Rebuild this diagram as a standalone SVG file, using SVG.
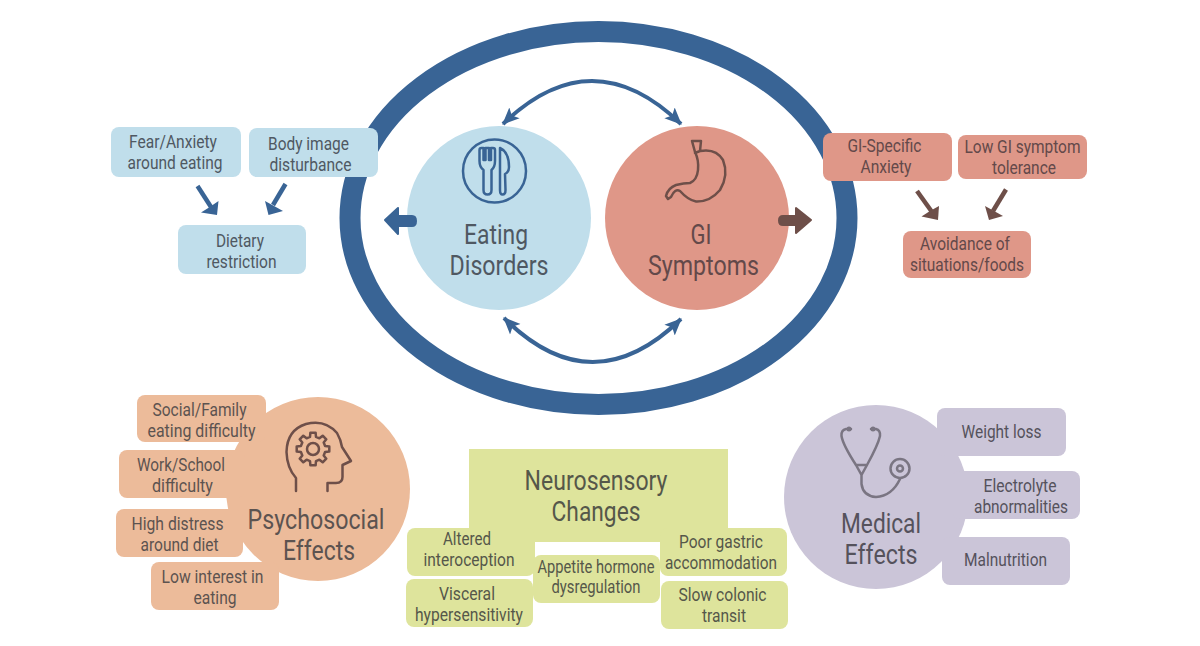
<svg xmlns="http://www.w3.org/2000/svg" width="1200" height="646" viewBox="0 0 1200 646">
<style>
text{font-family:Roboto,"Liberation Sans",sans-serif;fill:#555355;text-anchor:middle}
.t{font-size:18px}.h{font-size:28px}
.ic{fill:none;stroke-width:2.500;stroke-linejoin:round;stroke-linecap:round}
.blue{fill:#c0deeb}.red{fill:#df9788}.org{fill:#ecbb9a}.pur{fill:#cbc5d8}.grn{fill:#dee49c}
.arc{fill:none;stroke:#396495;stroke-width:4}
.bl text{fill:#4f5862}.rd text{fill:#63494a}.og text{fill:#5c5350}.gr text{fill:#55574a}.pr text{fill:#55525c}
.sb{stroke:#396495;stroke-width:4.500;fill:none}.fb{fill:#396495}
.sr{stroke:#6e4f49;stroke-width:4.500;fill:none}.fr{fill:#6e4f49}
</style>
<defs>
<marker id="ah" markerUnits="userSpaceOnUse" markerWidth="17" markerHeight="17" refX="15" refY="7.500" orient="auto-start-reverse" viewBox="0 0 16 15"><path d="M0 0.500L16 7.500L0 14.500L3.500 7.500Z" fill="#396495"/></marker>
</defs>
<rect width="1200" height="646" fill="#fff"/>
<g id="ring"><ellipse cx="598.500" cy="218" rx="248.500" ry="186.500" fill="none" stroke="#396495" stroke-width="21"/></g>
<g id="eating-disorders" class="bl"><circle class="blue" cx="499" cy="218" r="92"/>
<circle cx="494.500" cy="171" r="31.500" class="ic" stroke="#396495"/>
<path class="ic" stroke="#396495" d="M479.500 150Q479.500 148 481.500 148H483.500V160H485.500V148H489V160H491V148H493Q495 148 495 150V161Q495 167 491.500 170V190Q491.500 194.500 487.500 194.500Q483.500 194.500 483.500 190V170Q479.500 167 479.500 161ZM500 148Q509 152 509 167Q509 172 505 174L505.500 190Q505.500 194.500 502.500 194.500Q500 194.500 500 190Z"/>
<text class="h" x="496" y="244" textLength="64" lengthAdjust="spacingAndGlyphs">Eating</text><text class="h" x="499" y="275" textLength="99" lengthAdjust="spacingAndGlyphs">Disorders</text></g>
<g id="gi-symptoms" class="rd"><circle class="red" cx="697" cy="218" r="92"/>
<path class="ic" stroke="#6e4f49" d="M692 141H701L700 151Q716 148 723 160Q729 175 720 190Q710 202 696 201.500Q688 200 680 191Q675 188 671 197L668 199L666 196Q668 188 676 185Q684 183 690 183Q697 180 698 170Q699 160 695 152ZM695 153L700 151"/>
<text class="h" x="701" y="244" textLength="21" lengthAdjust="spacingAndGlyphs">GI</text><text class="h" x="703.500" y="275" textLength="111" lengthAdjust="spacingAndGlyphs">Symptoms</text></g>
<g id="fear" class="bl"><rect class="blue" x="111" y="127" width="130" height="50" rx="8"/><text class="t" x="173" y="148" textLength="88" lengthAdjust="spacingAndGlyphs">Fear/Anxiety</text><text class="t" x="175" y="169" textLength="95" lengthAdjust="spacingAndGlyphs">around eating</text></g>
<g id="body" class="bl"><rect class="blue" x="249" y="128" width="129" height="49" rx="8"/><text class="t" x="308.500" y="150" textLength="81" lengthAdjust="spacingAndGlyphs">Body image</text><text class="t" x="310.500" y="171" textLength="82" lengthAdjust="spacingAndGlyphs">disturbance</text></g>
<g id="dietary" class="bl"><rect class="blue" x="178" y="225" width="128" height="49" rx="8"/><text class="t" x="240" y="247" textLength="48" lengthAdjust="spacingAndGlyphs">Dietary</text><text class="t" x="241.500" y="268" textLength="70" lengthAdjust="spacingAndGlyphs">restriction</text></g>
<g id="gi-anxiety" class="rd"><rect class="red" x="823" y="133" width="129" height="48" rx="8"/><text class="t" x="884.500" y="152" textLength="74" lengthAdjust="spacingAndGlyphs">GI-Specific</text><text class="t" x="886" y="173" textLength="51" lengthAdjust="spacingAndGlyphs">Anxiety</text></g>
<g id="low-tolerance" class="rd"><rect class="red" x="958" y="135" width="129" height="44" rx="8"/><text class="t" x="1022.500" y="153" textLength="116" lengthAdjust="spacingAndGlyphs">Low GI symptom</text><text class="t" x="1024" y="174" textLength="64" lengthAdjust="spacingAndGlyphs">tolerance</text></g>
<g id="avoidance" class="rd"><rect class="red" x="903" y="231" width="128" height="47" rx="8"/><text class="t" x="965" y="250" textLength="90" lengthAdjust="spacingAndGlyphs">Avoidance of</text><text class="t" x="967" y="271" textLength="114" lengthAdjust="spacingAndGlyphs">situations/foods</text></g>
<g id="psychosocial" class="og"><circle class="org" cx="318" cy="489" r="92"/>
<path class="ic" stroke="#6e4f49" d="M296 491V478Q287 468 286.500 452Q287 430 306 424Q325 419 337 433Q341 440 342 447L351 461L342.500 465V477Q342.500 483 336 483H327.500V491"/>
<circle cx="313" cy="449" r="6" class="ic" stroke="#6e4f49"/>
<polygon class="ic" stroke="#6e4f49" transform="translate(313 449)" points="-3,-12.100 -2.600,-16.300 2.600,-16.300 3,-12.100 6.400,-10.700 9.700,-13.300 13.300,-9.700 10.700,-6.400 12.100,-3 16.300,-2.600 16.300,2.600 12.100,3 10.700,6.400 13.300,9.700 9.700,13.300 6.400,10.700 3,12.100 2.600,16.300 -2.600,16.300 -3,12.100 -6.400,10.700 -9.700,13.300 -13.300,9.700 -10.700,6.400 -12.100,3 -16.300,2.600 -16.300,-2.600 -12.100,-3 -10.700,-6.400 -13.300,-9.700 -9.700,-13.300 -6.400,-10.700"/>
<rect class="org" x="137" y="395" width="129" height="47" rx="8"/><text class="t" x="199.500" y="416" textLength="94" lengthAdjust="spacingAndGlyphs">Social/Family</text><text class="t" x="201.500" y="437" textLength="108" lengthAdjust="spacingAndGlyphs">eating difficulty</text>
<rect class="org" x="119" y="450" width="126" height="48" rx="8"/><text class="t" x="181" y="471" textLength="88" lengthAdjust="spacingAndGlyphs">Work/School</text><text class="t" x="182.500" y="492" textLength="61" lengthAdjust="spacingAndGlyphs">difficulty</text>
<rect class="org" x="116" y="509" width="127" height="48" rx="8"/><text class="t" x="177.500" y="530" textLength="92" lengthAdjust="spacingAndGlyphs">High distress</text><text class="t" x="179.500" y="551" textLength="78" lengthAdjust="spacingAndGlyphs">around diet</text>
<rect class="org" x="151" y="562" width="128" height="48" rx="8"/><text class="t" x="212.500" y="583" textLength="102" lengthAdjust="spacingAndGlyphs">Low interest in</text><text class="t" x="215" y="604" textLength="43" lengthAdjust="spacingAndGlyphs">eating</text>
<text class="h" x="316" y="529" textLength="137" lengthAdjust="spacingAndGlyphs">Psychosocial</text><text class="h" x="319" y="560" textLength="72" lengthAdjust="spacingAndGlyphs">Effects</text></g>
<g id="neurosensory" class="gr"><rect class="grn" x="469" y="449" width="259" height="93"/>
<text class="h" x="596" y="490" textLength="143" lengthAdjust="spacingAndGlyphs">Neurosensory</text><text class="h" x="596" y="521" textLength="89" lengthAdjust="spacingAndGlyphs">Changes</text>
<rect class="grn" x="407" y="528" width="128" height="48" rx="8"/><text class="t" x="467" y="545" textLength="48" lengthAdjust="spacingAndGlyphs">Altered</text><text class="t" x="469" y="566" textLength="91" lengthAdjust="spacingAndGlyphs">interoception</text>
<rect class="grn" x="406" y="579" width="127" height="48" rx="8"/><text class="t" x="467" y="600" textLength="56" lengthAdjust="spacingAndGlyphs">Visceral</text><text class="t" x="469" y="621" textLength="108" lengthAdjust="spacingAndGlyphs">hypersensitivity</text>
<rect class="grn" x="533" y="555" width="127" height="48" rx="8"/><text class="t" x="596" y="573" textLength="117" lengthAdjust="spacingAndGlyphs">Appetite hormone</text><text class="t" x="596" y="593" textLength="89" lengthAdjust="spacingAndGlyphs">dysregulation</text>
<rect class="grn" x="660" y="528" width="127" height="48" rx="8"/><text class="t" x="721" y="548" textLength="84" lengthAdjust="spacingAndGlyphs">Poor gastric</text><text class="t" x="721" y="569" textLength="112" lengthAdjust="spacingAndGlyphs">accommodation</text>
<rect class="grn" x="661" y="581" width="127" height="48" rx="8"/><text class="t" x="722.500" y="601" textLength="88" lengthAdjust="spacingAndGlyphs">Slow colonic</text><text class="t" x="724" y="622" textLength="44" lengthAdjust="spacingAndGlyphs">transit</text></g>
<g id="medical" class="pr"><circle class="pur" cx="876" cy="497" r="92"/>
<path class="ic" stroke="#7a7582" d="M851 429H846Q841 430 841.500 436Q843 445 856 465H867Q878 445 880 436Q880.500 430 876 429H871M856 465L861.500 475L867 465M861.500 475V484Q863 496 876 497Q892 496 900 479"/>
<circle cx="849" cy="429" r="2.500" fill="#7a7582"/><circle cx="873" cy="429" r="2.500" fill="#7a7582"/>
<circle cx="900" cy="468.500" r="9.500" class="ic" stroke="#7a7582"/><circle cx="900" cy="468.500" r="3" class="ic" stroke="#7a7582"/>
<text class="h" x="881" y="533" textLength="80" lengthAdjust="spacingAndGlyphs">Medical</text><text class="h" x="881" y="564" textLength="73" lengthAdjust="spacingAndGlyphs">Effects</text>
<rect class="pur" x="937" y="408" width="129" height="48" rx="8"/><text class="t" x="1001.500" y="438" textLength="80" lengthAdjust="spacingAndGlyphs">Weight loss</text>
<rect class="pur" x="952" y="471" width="128" height="48" rx="8"/><text class="t" x="1020" y="492" textLength="73" lengthAdjust="spacingAndGlyphs">Electrolyte</text><text class="t" x="1021" y="513" textLength="94" lengthAdjust="spacingAndGlyphs">abnormalities</text>
<rect class="pur" x="942" y="537" width="128" height="48" rx="8"/><text class="t" x="1005.500" y="566" textLength="83" lengthAdjust="spacingAndGlyphs">Malnutrition</text></g>
<g id="connectors">
<path class="arc" d="M503 124Q592 38 681 124" marker-start="url(#ah)" marker-end="url(#ah)"/>
<path class="arc" d="M504 318Q592 405.500 681 319" marker-start="url(#ah)" marker-end="url(#ah)"/>
<path class="fb" stroke="#396495" stroke-width="2" stroke-linejoin="round" d="M385 220L398 208V216H412Q416 216 416 221Q416 226 412 226H398V234Z"/>
<path class="fr" stroke="#6e4f49" stroke-width="2" stroke-linejoin="round" d="M811 220L796 208V216H783Q779 216 779 220.500Q779 225 783 225H796V233Z"/>
<path class="sb" d="M197.500 186L211 207"/><polygon class="fb" points="217,215 201,212.500 209,207.500 218.500,201"/>
<path class="sb" d="M285.500 184L273 205"/><polygon class="fb" points="268.500,215 265,201 274,206 283,211"/>
<path class="sr" d="M917 191L932 212"/><polygon class="fr" points="938,220 921.500,216.500 930,211 939,206"/>
<path class="sr" d="M1006 189.500L993 211"/><polygon class="fr" points="989,220 985,206 994,211 1003,216"/>
</g>
</svg>
